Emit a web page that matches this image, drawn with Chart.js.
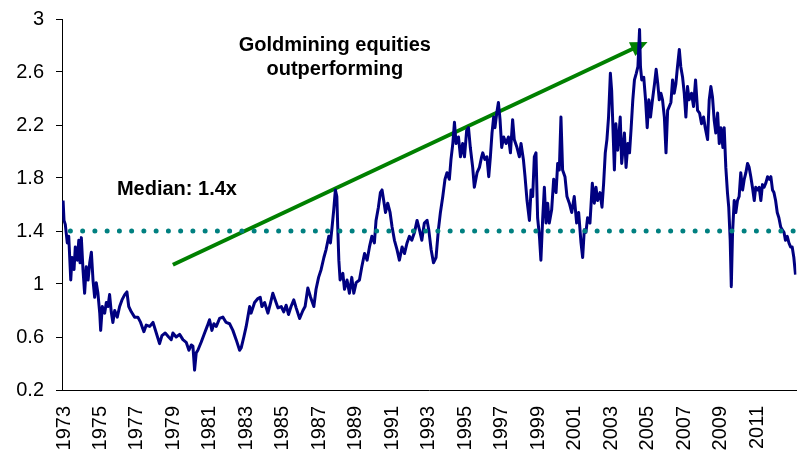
<!DOCTYPE html>
<html>
<head>
<meta charset="utf-8">
<script src="https://cdn.jsdelivr.net/npm/chart.js@4.4.1/dist/chart.umd.min.js"></script>
<style>
  html, body { margin: 0; padding: 0; background: #fff; }
  #wrap { width: 797px; height: 450px; position: relative; }
</style>
</head>
<body>
<div id="wrap"><canvas id="ratio"></canvas></div>
<script>
// gold miners vs gold price ratio, sampled as fractional years
var years = [
  1972.95, 1973.00, 1973.07, 1973.18, 1973.26, 1973.37, 1973.44, 1973.55, 1973.62, 1973.73, 1973.81, 1973.88, 1973.95,
  1974.04, 1974.13, 1974.22, 1974.32, 1974.41, 1974.50, 1974.59, 1974.68, 1974.77, 1974.86, 1974.96,
  1975.01, 1975.10, 1975.23, 1975.32, 1975.41, 1975.50, 1975.59, 1975.68, 1975.78, 1975.92,
  1976.05, 1976.18, 1976.33, 1976.45, 1976.55, 1976.69, 1976.87,
  1977.05, 1977.20, 1977.38, 1977.51, 1977.70, 1977.88,
  1978.06, 1978.24, 1978.37, 1978.55, 1978.74, 1978.88, 1978.97,
  1979.15, 1979.34, 1979.52, 1979.70, 1979.85, 1979.98,
  1980.07, 1980.16, 1980.25, 1980.34, 1980.52, 1980.71, 1980.85, 1980.98,
  1981.11, 1981.22, 1981.35, 1981.53, 1981.71, 1981.89,
  1982.08, 1982.26, 1982.44, 1982.63, 1982.72, 1982.86, 1982.99,
  1983.08, 1983.18, 1983.26, 1983.45, 1983.63, 1983.76, 1983.85,
  1984.00, 1984.18, 1984.33, 1984.45, 1984.58, 1984.73, 1984.91,
  1985.05, 1985.18, 1985.31, 1985.45, 1985.60, 1985.73, 1985.92,
  1986.10, 1986.22, 1986.37, 1986.52, 1986.70, 1986.82, 1986.96,
  1987.10, 1987.25, 1987.37, 1987.52, 1987.61, 1987.70, 1987.79, 1987.88, 1987.96,
  1988.01, 1988.07, 1988.14, 1988.29, 1988.38, 1988.52, 1988.65, 1988.78, 1988.89,
  1989.02, 1989.20, 1989.33, 1989.48, 1989.62, 1989.75, 1989.88,
  1990.02, 1990.11, 1990.24, 1990.35, 1990.44, 1990.53, 1990.63, 1990.75, 1990.88, 1990.99,
  1991.12, 1991.26, 1991.39, 1991.54, 1991.67, 1991.81, 1991.94,
  1992.07, 1992.22, 1992.36, 1992.49, 1992.62, 1992.76, 1992.91,
  1993.00, 1993.13, 1993.26, 1993.40, 1993.53, 1993.64, 1993.77, 1993.89,
  1994.00, 1994.13, 1994.22, 1994.32, 1994.41, 1994.50, 1994.63, 1994.74, 1994.86, 1994.96,
  1995.08, 1995.18, 1995.28, 1995.41, 1995.50, 1995.65, 1995.78, 1995.90, 1995.96,
  1996.08, 1996.19, 1996.29, 1996.38, 1996.47, 1996.56, 1996.63, 1996.73, 1996.82, 1996.91,
  1997.00, 1997.11, 1997.24, 1997.37, 1997.48, 1997.60, 1997.69, 1997.84, 1997.97,
  1998.06, 1998.19, 1998.28, 1998.39, 1998.52, 1998.61, 1998.70, 1998.79, 1998.88, 1998.97,
  1999.07, 1999.15, 1999.25, 1999.34, 1999.43, 1999.52, 1999.61, 1999.74, 1999.85, 1999.98,
  2000.07, 2000.16, 2000.25, 2000.34, 2000.47, 2000.58, 2000.71, 2000.84, 2000.98,
  2001.11, 2001.22, 2001.35, 2001.44, 2001.53, 2001.62, 2001.71, 2001.84, 2001.97,
  2002.08, 2002.17, 2002.26, 2002.39, 2002.50, 2002.59, 2002.68, 2002.77, 2002.86, 2002.96,
  2003.03, 2003.08, 2003.18, 2003.26, 2003.36, 2003.45, 2003.50, 2003.58, 2003.64, 2003.73, 2003.82, 2003.92,
  2004.01, 2004.10, 2004.19, 2004.28, 2004.38, 2004.47, 2004.56, 2004.61, 2004.68, 2004.79, 2004.89, 2004.98,
  2005.07, 2005.16, 2005.25, 2005.38, 2005.47, 2005.56, 2005.64, 2005.73, 2005.82, 2005.92,
  2006.01, 2006.10, 2006.19, 2006.28, 2006.37, 2006.46, 2006.55, 2006.64, 2006.74, 2006.82, 2006.92,
  2007.01, 2007.10, 2007.19, 2007.28, 2007.41, 2007.52, 2007.63, 2007.74, 2007.85, 2007.96,
  2008.07, 2008.16, 2008.29, 2008.38, 2008.47, 2008.56, 2008.65, 2008.74, 2008.84, 2008.93,
  2009.02, 2009.13, 2009.20, 2009.29, 2009.38, 2009.45, 2009.53, 2009.59, 2009.66, 2009.75, 2009.84, 2009.93,
  2010.02, 2010.11, 2010.21, 2010.30, 2010.39, 2010.48, 2010.57, 2010.66, 2010.75, 2010.85, 2010.93,
  2011.03, 2011.12, 2011.21, 2011.30, 2011.39, 2011.48, 2011.58, 2011.67, 2011.76, 2011.85, 2011.93,
  2012.02, 2012.11, 2012.20, 2012.30, 2012.38, 2012.48, 2012.56, 2012.66, 2012.75, 2012.84, 2012.93,
  2013.02, 2013.11
];
var ratio = [
  1.63, 1.48, 1.45, 1.31, 1.36, 1.03, 1.20, 1.11, 1.28, 1.18, 1.33, 1.16, 1.35,
  1.11, 0.93, 1.13, 1.03, 1.16, 1.24, 1.03, 0.90, 1.01, 0.93, 0.78,
  0.65, 0.83, 0.78, 0.86, 0.83, 0.92, 0.79, 0.71, 0.80, 0.75,
  0.83, 0.88, 0.92, 0.94, 0.83, 0.79, 0.75,
  0.75, 0.71, 0.64, 0.69, 0.68, 0.71,
  0.63, 0.55, 0.61, 0.63, 0.60, 0.58, 0.63,
  0.60, 0.62, 0.58, 0.56, 0.50, 0.54,
  0.53, 0.35, 0.48, 0.50, 0.56, 0.63, 0.68, 0.73,
  0.65, 0.70, 0.68, 0.74, 0.75, 0.71,
  0.70, 0.65, 0.58, 0.50, 0.52, 0.60, 0.68,
  0.75, 0.83, 0.78, 0.86, 0.89, 0.90, 0.83,
  0.86, 0.78, 0.86, 0.93, 0.88, 0.82, 0.83,
  0.79, 0.84, 0.77, 0.83, 0.88, 0.82, 0.74,
  0.80, 0.83, 0.97, 0.90, 0.83, 0.96, 1.05,
  1.11, 1.20, 1.26, 1.36, 1.31, 1.43, 1.56, 1.71, 1.66,
  1.43, 1.18, 1.03, 1.08, 0.96, 1.03, 0.93, 1.05, 0.93,
  1.01, 1.03, 1.13, 1.23, 1.18, 1.28, 1.36,
  1.31, 1.48, 1.58, 1.69, 1.71, 1.63, 1.54, 1.61, 1.54, 1.43,
  1.33, 1.26, 1.18, 1.28, 1.23, 1.31, 1.36,
  1.33, 1.39, 1.48, 1.41, 1.33, 1.46, 1.48,
  1.41, 1.26, 1.16, 1.20, 1.41, 1.54, 1.66, 1.79,
  1.84, 1.79, 1.94, 2.06, 2.22, 2.06, 2.11, 1.96, 2.06, 1.96,
  2.16, 2.18, 2.03, 1.88, 1.73, 1.84, 1.88, 1.96, 1.99,
  1.94, 1.96, 1.81, 1.96, 2.14, 2.26, 2.18, 2.29, 2.37, 2.24,
  2.03, 2.11, 2.06, 2.11, 1.99, 2.24, 2.09, 2.03, 1.96,
  2.06, 1.94, 1.81, 1.63, 1.48, 1.71, 1.66, 1.96, 1.99, 1.50,
  1.36, 1.18, 1.50, 1.73, 1.46, 1.61, 1.46, 1.56, 1.79, 1.69,
  1.91, 1.86, 2.26, 1.86, 1.81, 1.66, 1.61, 1.54, 1.66,
  1.46, 1.54, 1.31, 1.20, 1.41, 1.39, 1.50, 1.46, 1.76,
  1.61, 1.73, 1.63, 1.69, 1.58, 1.76, 1.99, 2.09, 2.26, 2.59,
  2.46, 2.26, 1.86, 2.21, 2.01, 2.16, 2.26, 1.91, 2.00, 2.14, 1.88, 2.06,
  1.99, 2.18, 2.39, 2.54, 2.59, 2.64, 2.92, 2.64, 2.54, 2.56, 2.39, 2.18,
  2.39, 2.26, 2.37, 2.51, 2.62, 2.51, 2.39, 2.44, 2.39, 2.26,
  1.99, 2.31, 2.34, 2.37, 2.54, 2.44, 2.51, 2.64, 2.77, 2.64, 2.56,
  2.44, 2.26, 2.49, 2.39, 2.44, 2.34, 2.54, 2.31, 2.29, 2.21,
  2.26, 2.18, 2.09, 2.39, 2.49, 2.41, 2.24, 2.14, 2.29, 2.06,
  2.18, 2.03, 2.18, 1.88, 1.69, 1.58, 1.33, 0.98, 1.39, 1.63, 1.54, 1.63,
  1.66, 1.84, 1.71, 1.79, 1.84, 1.91, 1.88, 1.81, 1.73, 1.63, 1.73,
  1.71, 1.73, 1.63, 1.75, 1.73, 1.76, 1.81, 1.79, 1.81, 1.71, 1.69,
  1.63, 1.54, 1.50, 1.43, 1.41, 1.39, 1.33, 1.36, 1.31, 1.28, 1.28,
  1.20, 1.07
];

var xTicks = [1973, 1975, 1977, 1979, 1981, 1983, 1985, 1987, 1989, 1991,
  1993, 1995, 1997, 1999, 2001, 2003, 2005, 2007, 2009, 2011];
var yTicks = [0.2, 0.6, 1, 1.4, 1.8, 2.2, 2.6, 3];

var median = 1.4;
var medianFrom = 1973.35, medianTo = 2013.16;

// green trend arrow, start and end of the shaft
var trendYears = [1978.97, 2004.75];
var trendValues = [1.145, 2.811];

var titleLines = ['Goldmining equities', 'outperforming'];
var medianText = 'Median: 1.4x';

var FONT = '"Liberation Sans", Arial, Helvetica, sans-serif';

// where the two text notes sit, in axis units
var notePos = { titleX: 1987.85, titleY: [2.758, 2.577], medianX: 1975.9, medianY: 1.672 };

var series = years.map(function (yr, i) { return { x: yr, y: ratio[i] }; });
var medianLine = [{ x: medianFrom, y: median }, { x: medianTo, y: median }];
var trend = trendYears.map(function (yr, i) { return { x: yr, y: trendValues[i] }; });

// triangle head on the end of the trend line
var arrowHead = {
  id: 'arrowHead',
  afterDatasetDraw: function (chart, args) {
    if (args.index !== 0) return;
    var pts = args.meta.data;
    var a = pts[pts.length - 2], b = pts[pts.length - 1];
    var ang = Math.atan2(b.y - a.y, b.x - a.x);
    var ctx = chart.ctx;
    ctx.save();
    ctx.translate(b.x, b.y);
    ctx.rotate(ang);
    ctx.beginPath();
    ctx.moveTo(5, 0);
    ctx.lineTo(-12, -7.5);
    ctx.lineTo(-12, 7.5);
    ctx.closePath();
    ctx.fillStyle = '#008000';
    ctx.fill();
    ctx.restore();
  }
};

var notes = {
  id: 'notes',
  afterDraw: function (chart) {
    var xs = chart.scales.x, ys = chart.scales.y, ctx = chart.ctx;
    ctx.save();
    ctx.fillStyle = '#000';
    ctx.font = 'bold 20px ' + FONT;
    ctx.textBaseline = 'alphabetic';
    ctx.textAlign = 'center';
    titleLines.forEach(function (t, i) {
      ctx.fillText(t, xs.getPixelForValue(notePos.titleX), ys.getPixelForValue(notePos.titleY[i]));
    });
    ctx.textAlign = 'left';
    ctx.fillText(medianText, xs.getPixelForValue(notePos.medianX), ys.getPixelForValue(notePos.medianY));
    ctx.restore();
  }
};

new Chart(document.getElementById('ratio'), {
  type: 'line',
  data: {
    datasets: [
      {
        data: trend,
        borderColor: '#008000',
        borderWidth: 4,
        pointRadius: 0,
        order: 3
      },
      {
        data: series,
        borderColor: '#000080',
        borderWidth: 3,
        borderJoinStyle: 'round',
        pointRadius: 0,
        tension: 0,
        order: 2
      },
      {
        data: medianLine,
        borderColor: '#008080',
        borderWidth: 5,
        borderCapStyle: 'round',
        borderDash: [0, 12.25],
        pointRadius: 0,
        order: 1
      }
    ]
  },
  options: {
    responsive: true,
    maintainAspectRatio: false,
    animation: false,
    layout: { padding: { top: 19, right: 0, left: 0, bottom: 0 } },
    plugins: { legend: { display: false }, tooltip: { enabled: false } },
    scales: {
      x: {
        type: 'linear',
        min: 1972.89,
        max: 2013.16,
        afterBuildTicks: function (s) { s.ticks = xTicks.map(function (v) { return { value: v }; }); },
        afterFit: function (s) { s.height = 60; },
        grid: { display: false, drawTicks: false },
        border: { display: true, color: '#000', width: 1 },
        ticks: {
          autoSkip: false,
          minRotation: 90,
          maxRotation: 90,
          padding: 16,
          color: '#000',
          font: { family: FONT, size: 20 },
          callback: function (v) { return String(v); }
        }
      },
      y: {
        min: 0.2,
        max: 3,
        afterBuildTicks: function (s) { s.ticks = yTicks.map(function (v) { return { value: v }; }); },
        // fixed width, and no extra room above the top label
        afterFit: function (s) { s.width = 62; s.paddingTop = 0; s.paddingBottom = 0; },
        grid: { drawOnChartArea: false, drawTicks: true, tickLength: 6, tickColor: '#000' },
        border: { display: true, color: '#000', width: 1 },
        ticks: {
          padding: 12,
          color: '#000',
          font: { family: FONT, size: 20 },
          callback: function (v) { return String(Math.round(v * 10) / 10); }
        }
      }
    }
  },
  plugins: [arrowHead, notes]
});
</script>
</body>
</html>
